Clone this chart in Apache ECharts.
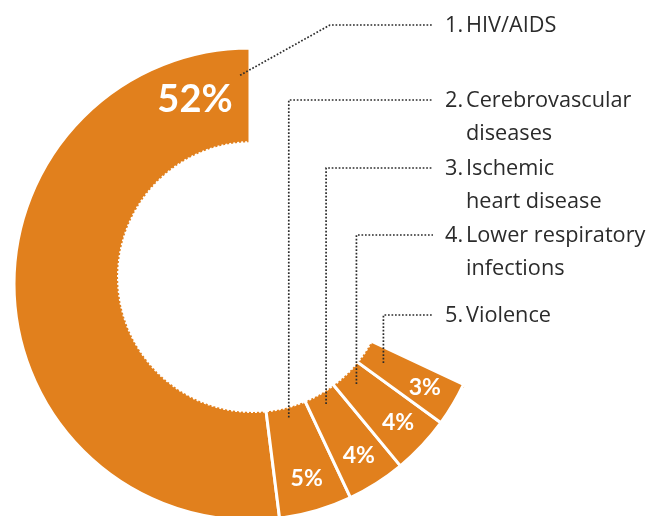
<!DOCTYPE html>
<html><head><meta charset="utf-8">
<script src="https://cdn.jsdelivr.net/npm/echarts@6/dist/echarts.min.js"></script>
<style>html,body{margin:0;padding:0;background:#fff}#c{width:666px;height:516px}</style>
</head><body><div id="c"></div>
<script>
// ---- data ----
const numbers = ['1.', '2.', '3.', '4.', '5.'];
const categories = ['HIV/AIDS', 'Cerebrovascular\ndiseases', 'Ischemic\nheart disease', 'Lower respiratory\ninfections', 'Violence'];
const shares = [52, 5, 4, 4, 3];
const totalShare = 100;

// ---- layout / style ----
const CX = 250, CY = 284, R_OUT = 236, R_BASE = 110;
const HOLE = { cx: 253, cy: 277, r: 135 };
const ORANGE = '#E1801D';
const TEXT = '#2b2b2b';
const FONT = 'Open Sans';
const PCT_FONT = 'Lato';
const lineY = [25, 100, 168, 235, 315];
const textX = 445, lineEndX = 433;
const anchorR = [209, 139, 142, 146, 155];
const anchorFrac = [0.0145, 0.5, 0.5, 0.5, 0.5];
const pctR = [192, 203, 203, 203, 203];
const pctFrac = [0.089, 0.5, 0.5, 0.5, 0.5];

const starts = [];
let acc = 0;
shares.forEach(v => { starts.push(acc); acc += v; });
const rest = totalShare - acc;

function angleOf(i, frac) { return 90 + 360 * (starts[i] + shares[i] * frac) / totalShare; }
function pt(deg, r) { const a = deg * Math.PI / 180; return [CX + r * Math.cos(a), CY - r * Math.sin(a)]; }

const chart = echarts.init(document.getElementById('c'), null, { renderer: 'canvas' });

const donutData = shares.map((v, i) => ({
  value: v, name: categories[i],
  itemStyle: { color: ORANGE, borderColor: '#fff', borderWidth: 3 },
  label: { show: true, position: 'inside', formatter: v + '%', color: '#fff',
    fontSize: i === 0 ? 38 : 23, fontWeight: 'bold', fontFamily: PCT_FONT }
})).concat([{ value: rest, name: 'rest', itemStyle: { color: 'rgba(0,0,0,0)', borderWidth: 0 }, label: { show: false } }]);

const labelData = shares.map((v, i) => {
  const lines = categories[i].split('\n');
  const fmt = lines.map((l, k) => (k === 0 ? '{n|' + numbers[i] + '}' : '{n| }') + '{t|' + l + '}').join('\n');
  return {
    value: v, name: categories[i],
    itemStyle: { color: 'rgba(0,0,0,0)', borderWidth: 0 },
    label: { show: true, position: 'outside', formatter: fmt },
    labelLine: { show: true }
  };
}).concat([{ value: rest, name: 'rest', itemStyle: { color: 'rgba(0,0,0,0)' }, label: { show: false }, labelLine: { show: false } }]);

chart.setOption({
  animation: false,
  graphic: [{
    type: 'circle', z: 10, silent: true,
    shape: { cx: HOLE.cx, cy: HOLE.cy, r: HOLE.r },
    style: { fill: '#fff', stroke: '#fff', lineWidth: 2, lineDash: [2, 2] }
  }],
  series: [
    {
      type: 'pie', center: [CX, CY], radius: [R_BASE, R_OUT], startAngle: 90, clockwise: false,
      silent: true, avoidLabelOverlap: false, data: donutData,
      labelLayout: function (p) {
        const i = p.dataIndex;
        if (i >= shares.length) return {};
        const q = pt(angleOf(i, pctFrac[i]), pctR[i]);
        return { x: q[0], y: q[1], align: 'center', verticalAlign: 'middle' };
      }
    },
    {
      type: 'pie', center: [CX, CY], radius: [R_BASE, R_OUT], startAngle: 90, clockwise: false,
      silent: true, avoidLabelOverlap: false, data: labelData, z: 20,
      label: {
        color: TEXT, fontFamily: FONT,
        rich: {
          n: { width: 21, fontSize: 21.7, lineHeight: 33, color: TEXT, fontFamily: FONT },
          t: { fontSize: 21.7, lineHeight: 33, color: TEXT, fontFamily: FONT }
        }
      },
      labelLine: { show: true, lineStyle: { color: TEXT, width: 1.7, type: [1.7, 1.8] } },
      labelLayout: function (p) {
        const i = p.dataIndex;
        if (i >= shares.length) return {};
        const a = pt(angleOf(i, anchorFrac[i]), anchorR[i]);
        let pts;
        if (i === 0) pts = [a, [330, lineY[0]], [lineEndX, lineY[0]]];
        else pts = [a, [a[0], lineY[i]], [lineEndX, lineY[i]]];
        return { x: textX, y: lineY[i] - 15.5, align: 'left', verticalAlign: 'top', labelLinePoints: pts };
      }
    }
  ]
});
</script></body></html>
